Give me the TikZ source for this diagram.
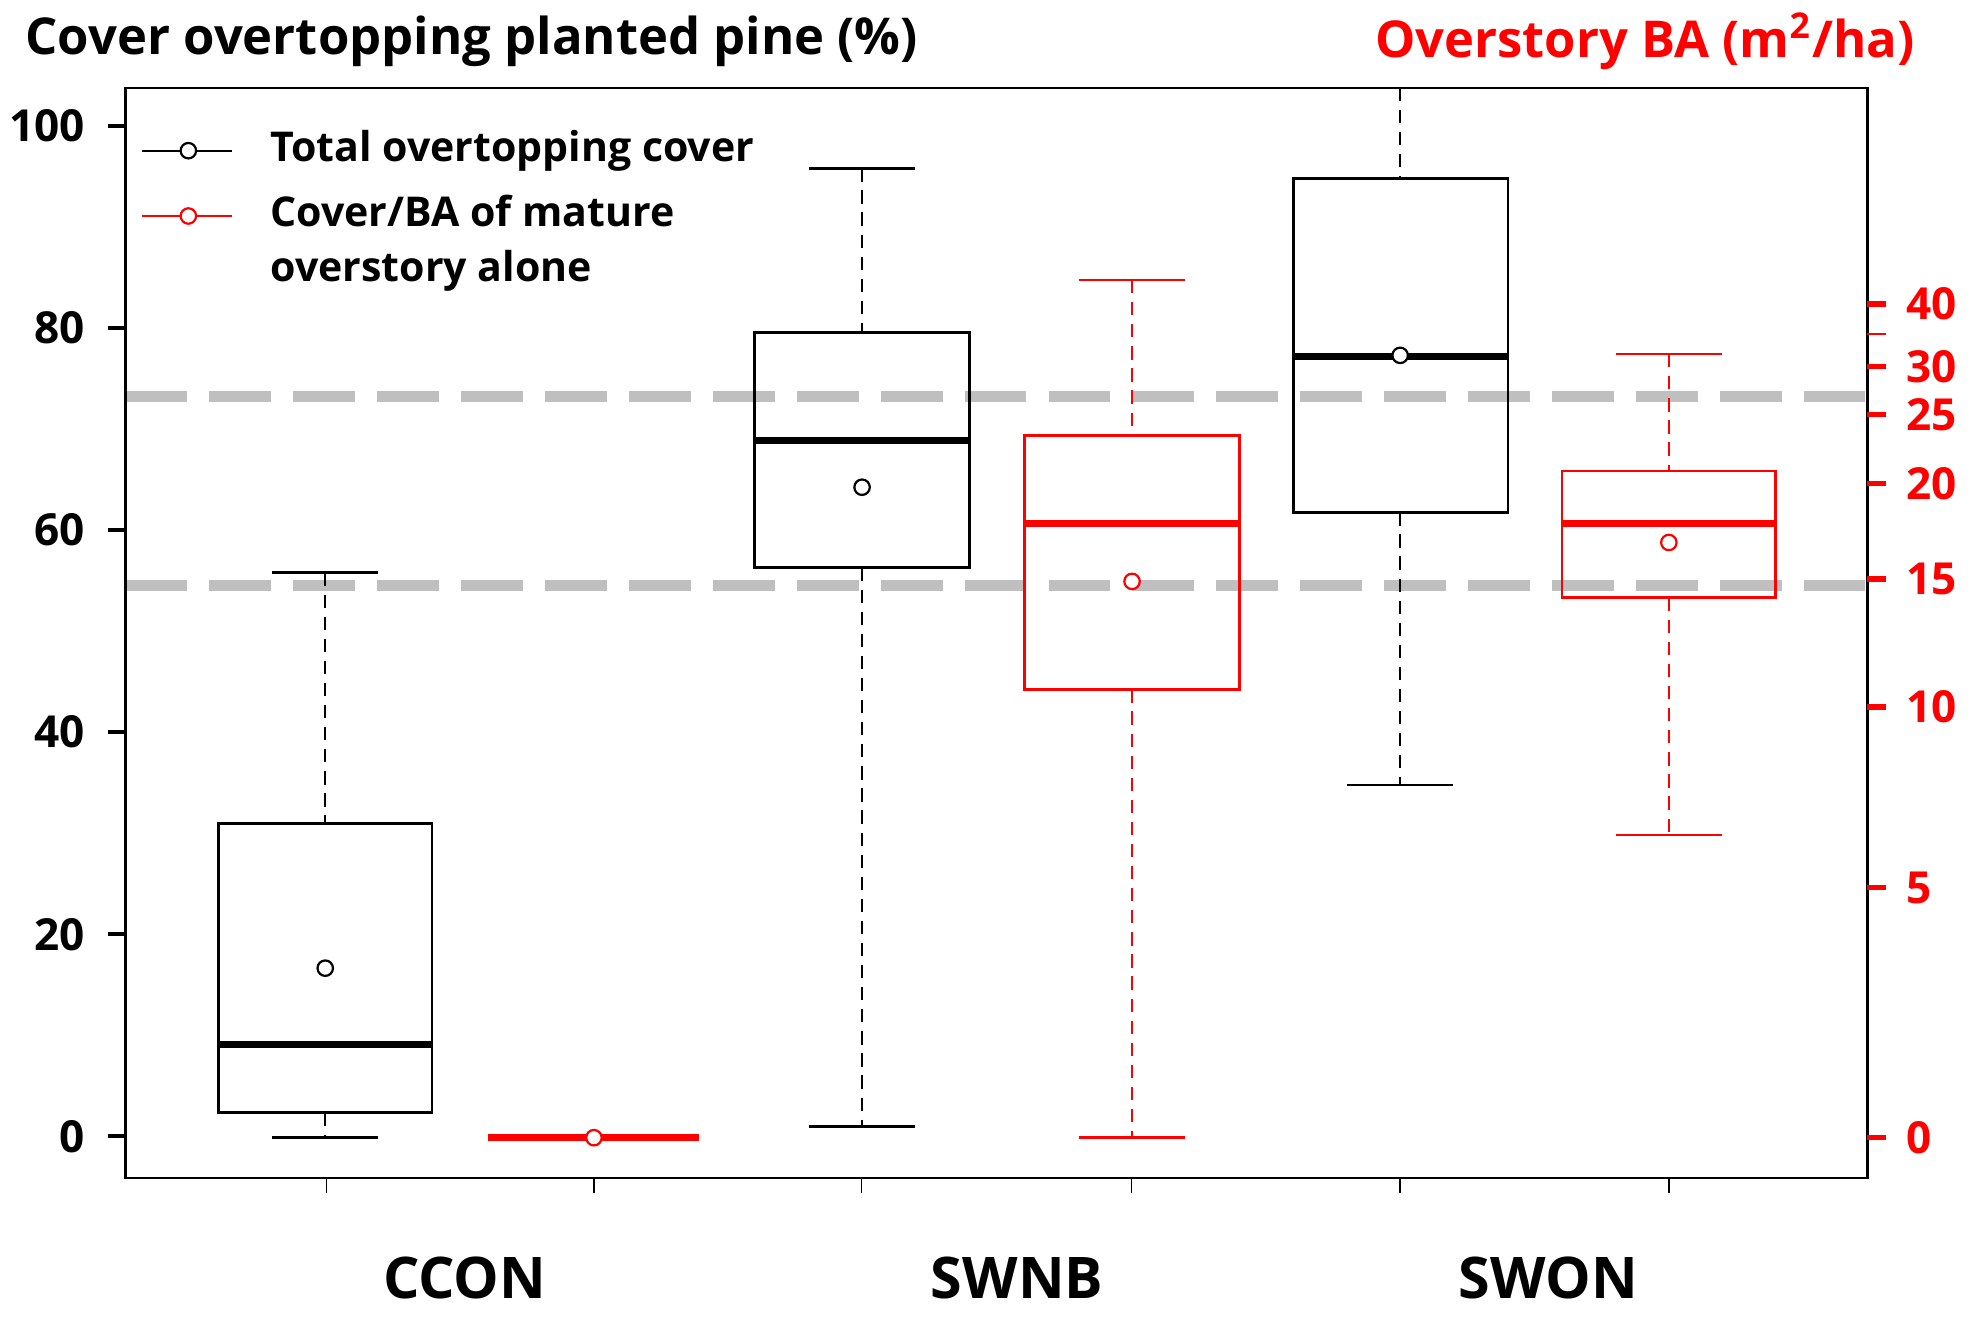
\documentclass[tikz,border=0pt]{standalone}
\usepackage{fontspec}
\setmainfont{Open Sans}
\begin{document}
\begin{tikzpicture}[x=0.01cm,y=-0.01cm,
 lab/.style={font=\bfseries\fontsize{10}{12}\selectfont},
 bx/.style={line width=0.6pt},
 med/.style={line width=1.6pt},
 wh/.style={densely dashed,line width=0.4pt},
 mc/.style={circle,draw=#1,inner sep=0pt,minimum size=3.5pt,line width=0.5pt,fill=white},
 mc/.default=black,
 gd/.style={gray!50,dash pattern=on 14pt off 5pt,line width=2.5pt}]
\useasboundingbox (0,0) rectangle (1568,1052);
% titles
\node[anchor=west,font=\bfseries\fontsize{11.5}{14}\selectfont] (t1) at (8,33) {Cover overtopping planted pine (\%)};
\node[anchor=east,red,font=\bfseries\fontsize{11.5}{14}\selectfont] (t2) at (1537,33) {Overstory BA (m\textsuperscript{2}/ha)};
% dashed grey
\draw[gd] (100,316) -- (1487,316);
\draw[gd] (100,466) -- (1487,466);
% frame
\draw[line width=0.6pt] (100,70) rectangle (1487,938);
% left axis
\foreach \v/\y in {100/100,80/261,60/422,40/583,20/744,0/905}{
 \draw[line width=0.9pt] (86,\y) -- (100,\y);
 \node[lab,anchor=east] at (80,\y) {\v};}
% right axis
\foreach \v/\y in {40/242,30/292,25/330,20/385,15/461,10/563,5/707,0/906}{
 \draw[red,line width=1.2pt] (1487,\y) -- (1502,\y);
 \node[lab,anchor=west,red] at (1506,\y) {\v};}
\draw[red,line width=0.5pt] (1487,266) -- (1502,266);
% x ticks
\foreach \x in {260,473,686,901,1115,1329} \draw (\x,938) -- (\x,950);
\node[font=\bfseries\fontsize{13}{15}\selectfont] (c1) at (370,1018) {CCON};
\node[font=\bfseries\fontsize{13}{15}\selectfont] (c2) at (810,1018) {SWNB};
\node[font=\bfseries\fontsize{13}{15}\selectfont] (c3) at (1233,1018) {SWON};
% legend
\draw (113,120) -- (185,120); \node[mc] (l1) at (150,120) {};
\draw[red] (113,172) -- (185,172); \node[mc=red] (l2) at (150,172) {};
\node[anchor=west,font=\bfseries\fontsize{9.3}{11}\selectfont] (lt1) at (203,120) {Total overtopping cover};
\node[anchor=west,font=\bfseries\fontsize{9.3}{11}\selectfont] (lt2) at (203,168) {Cover/BA of mature};
\node[anchor=west,font=\bfseries\fontsize{9.3}{11}\selectfont] (lt3) at (203,216) {overstory alone};
% boxplot macro
\newcommand{\mybox}[9]{% col, xl, xr, wtop, q3, med, q1, wbot, mean
 \pgfmathsetmacro{\xm}{(#2+#3)/2}
 \pgfmathsetmacro{\cl}{\xm-42}\pgfmathsetmacro{\cr}{\xm+42}
 \draw[#1,wh] (\xm,#4) -- (\xm,#5); \draw[#1,wh] (\xm,#7) -- (\xm,#8);
 \draw[#1,bx] (\cl,#4) -- (\cr,#4); \draw[#1,bx] (\cl,#8) -- (\cr,#8);
 \draw[#1,bx] (#2,#5) rectangle (#3,#7);
 \draw[#1,med] (#2,#6) -- (#3,#6);
 \node[mc=#1] at (\xm,#9) {};}
\mybox{black}{174}{344}{456}{656}{832}{886}{906}{771}
\mybox{black}{601}{772}{134}{265}{351}{452}{897}{388}
\mybox{red}{816}{987}{223}{347}{417}{549}{906}{463}
\mybox{red}{1244}{1414}{282}{375}{417}{476}{665}{432}
% SWON black
\draw[wh] (1115,70) -- (1115,142); \draw[wh] (1115,408) -- (1115,625);
\draw[bx] (1073,625) -- (1157,625);
\draw[bx] (1030,142) rectangle (1201,408);
\draw[med] (1030,284) -- (1201,284);
\node[mc] (m5) at (1115,283) {};
% CCON red flat
\draw[red,med] (389,906) -- (557,906);
\node[mc=red] (m2) at (473,906) {};
\end{tikzpicture}
\end{document}
